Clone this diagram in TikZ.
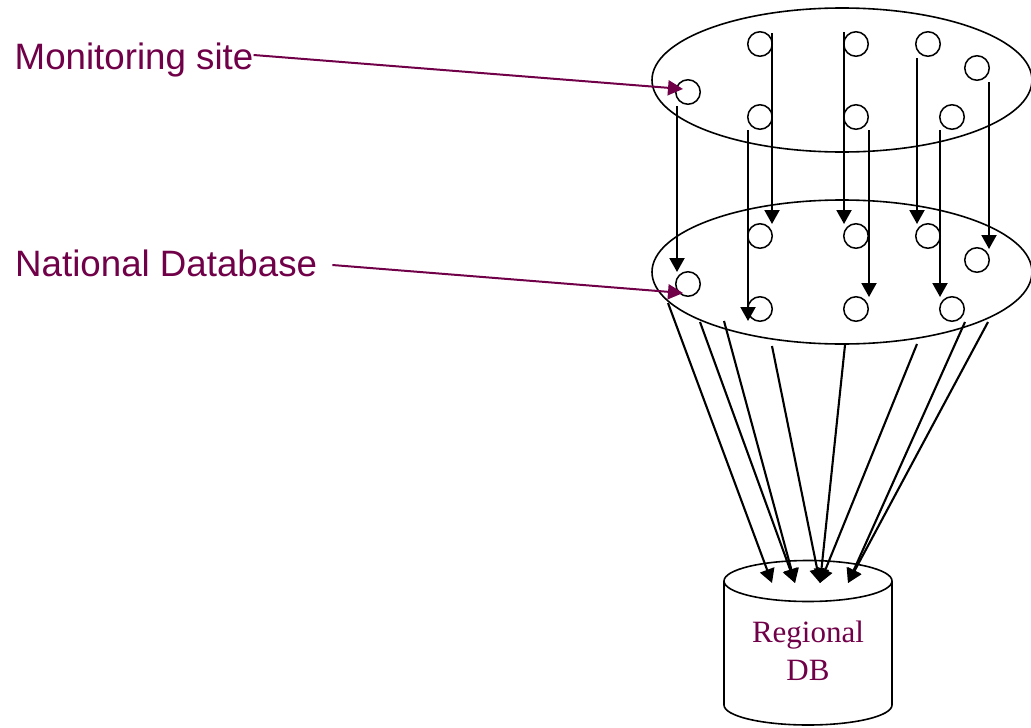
\documentclass[tikz,border=0pt]{standalone}
\usepackage{fontspec}
\setmainfont{Liberation Serif}
\newfontfamily\labelfont{Liberation Sans}
\usetikzlibrary{arrows.meta,calc,shapes.geometric}
\definecolor{plum}{RGB}{112,0,72}
\begin{document}
\begin{tikzpicture}[x=1pt,y=-1pt,
  site/.style={draw, circle, minimum size=24.5pt, inner sep=0pt, line width=1.5pt},
  tier/.style={draw, ellipse, minimum width=380pt, minimum height=144pt, inner sep=0pt, line width=1.6pt},
  flow/.style={line width=2.1pt, -{Triangle[length=14pt,width=15pt]}},
  pointer/.style={plum, line width=2pt, -{Triangle[length=15pt,width=15pt]}},
  caption/.style={plum, inner sep=0pt, anchor=base west, font=\labelfont\fontsize{36.7pt}{44pt}\selectfont}]
\useasboundingbox (0,0) rectangle (1031,728);

% the two tiers
\node[tier] (top) at (842,80) {};
\node[tier] (mid) at (842,272) {};

% monitoring sites
\node[site] (c1) at (688,92) {};
\node[site] (c2) at (760,44) {};
\node[site] (c3) at (856,44) {};
\node[site] (c4) at (928,44) {};
\node[site] (c5) at (977,68) {};
\node[site] (c6) at (760,117) {};
\node[site] (c7) at (856,117) {};
\node[site] (c8) at (952,117) {};

% national databases
\node[site] (m1) at (688,284) {};
\node[site] (m2) at (760,236) {};
\node[site] (m3) at (856,236) {};
\node[site] (m4) at (928,236) {};
\node[site] (m5) at (977,260) {};
\node[site] (m6) at (760,309) {};
\node[site] (m7) at (856,309) {};
\node[site] (m8) at (952,309) {};

% site -> national database
\draw[flow] ($(c1)+(-11,14)$) -- ($(m1)+(-11,-12)$);
\draw[flow] ($(c2)+(12,-11)$) -- ($(m2)+(12,-12)$);
\draw[flow] ($(c6)+(-12,13)$) -- ($(m6)+(-12,12)$);
\draw[flow] ($(c3)+(-12,-12)$) -- ($(m3)+(-12,-12)$);
\draw[flow] ($(c7)+(13,13)$) -- ($(m7)+(13,-12)$);
\draw[flow] ($(c4)+(-11,14)$) -- ($(m4)+(-11,-12)$);
\draw[flow] ($(c8)+(-12,13)$) -- ($(m8)+(-12,-12)$);
\draw[flow] ($(c5)+(12,14)$) -- ($(m5)+(12,-11)$);

% regional database cylinder
\coordinate (dbtop) at (808,581);
\draw[line width=1.6pt] (dbtop) ellipse[x radius=84pt, y radius=20.5pt];
\draw[line width=1.6pt] (724,581) -- (724,705)
  arc[start angle=180, end angle=360, x radius=84pt, y radius=20pt] -- (892,581);
\node[plum, align=center, font=\fontsize{31pt}{38pt}\selectfont] (db) at (808,650.5) {Regional\\DB};

% national database -> regional database
\draw[flow] ($(mid)+(-174,31)$) -- ($(dbtop)+(-36,2)$);
\draw[flow] ($(mid)+(-142,50)$) -- ($(dbtop)+(-13,2)$);
\draw[flow] ($(mid)+(-118,49)$) -- ($(dbtop)+(-13,2)$);
\draw[flow] ($(mid)+(-70,74)$) -- ($(dbtop)+(12,2)$);
\draw[flow] ($(mid)+(3,73)$) -- ($(dbtop)+(12,2)$);
\draw[flow] ($(mid)+(75,72)$) -- ($(dbtop)+(12,2)$);
\draw[flow] ($(mid)+(123,50)$) -- ($(dbtop)+(40,2)$);
\draw[flow] ($(mid)+(146,50)$) -- ($(dbtop)+(40,2)$);

% captions
\node[caption] (ms) at (14.5,69) {Monitoring site};
\node[caption] (nd) at (15,276) {National Database};
\draw[pointer] ($(ms.base east)+(0,-14)$) -- ($(c1)+(-5,-3)$);
\draw[pointer] ($(nd.base east)+(15,-11)$) -- ($(m1)+(-5,9)$);
\end{tikzpicture}
\end{document}
